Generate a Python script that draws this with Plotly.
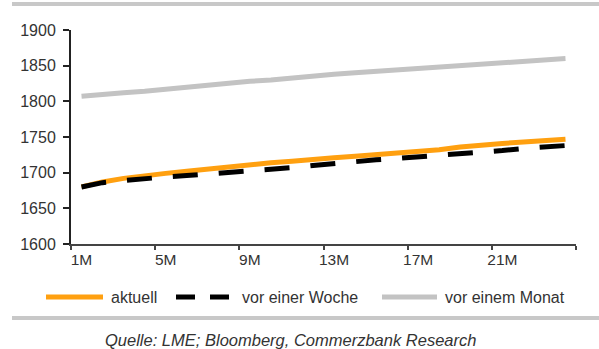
import plotly.graph_objects as go

# Forward curve, monthly tenors 1M..24M (USD/t)
months = list(range(1, 25))
tick_months = [1, 5, 9, 13, 17, 21]
tick_labels = ["1M", "5M", "9M", "13M", "17M", "21M"]

aktuell = [1680, 1687, 1692, 1696, 1699, 1702, 1705, 1709, 1712, 1714, 1716, 1719,
           1721, 1723, 1725, 1727, 1729, 1732, 1736, 1739, 1741, 1743, 1745, 1747]
vor_einer_woche = [1680, 1686, 1689, 1692, 1694, 1696, 1698, 1700, 1702, 1704, 1707, 1710,
                   1713, 1715, 1718, 1720, 1722, 1725, 1727, 1729, 1731, 1734, 1736, 1738]
vor_einem_monat = [1807, 1810, 1812, 1814, 1817, 1819, 1822, 1825, 1828, 1830, 1833, 1835,
                   1838, 1840, 1842, 1844, 1846, 1848, 1850, 1852, 1854, 1856, 1858, 1860]

series_names = ["aktuell", "vor einer Woche", "vor einem Monat"]

W, H = 599, 349
L, R, T, B = 71, 23, 30, 105
PW, PH = W - L - R, H - T - B

ORANGE = "#FFA010"
GRAY = "#C3C3C3"
TEXT = "#333333"
FONT = "Liberation Sans, Arial, sans-serif"


def px(x):
    return (x - L) / PW


def py(y):
    return (H - B - y) / PH


fig = go.Figure()
fig.add_trace(go.Scatter(x=months, y=vor_einem_monat, mode="lines",
                         line=dict(color=GRAY, width=5), name=series_names[2]))
fig.add_trace(go.Scatter(x=months, y=aktuell, mode="lines",
                         line=dict(color=ORANGE, width=5), name=series_names[0]))
fig.add_trace(go.Scatter(x=months, y=vor_einer_woche, mode="lines",
                         line=dict(color="#000000", width=5, dash="25px,21px"),
                         name=series_names[1]))

shapes = []
annotations = []

# horizontal rules above and below the chart
for yy in (4, 318):
    shapes.append(dict(type="line", xref="paper", yref="paper",
                       x0=px(12), x1=px(599), y0=py(yy), y1=py(yy),
                       line=dict(color="#C8C8C8", width=4)))

# legend row
leg_y = 297
legend_items = [
    (46, 103, dict(color=ORANGE, width=5), 109, series_names[0]),
    (176, 229, dict(color="#000000", width=5, dash="19px,15px"), 240, series_names[1]),
    (382, 437, dict(color=GRAY, width=5), 443, series_names[2]),
]
for x0, x1, ln, tx, label in legend_items:
    shapes.append(dict(type="line", xref="paper", yref="paper",
                       x0=px(x0), x1=px(x1), y0=py(leg_y), y1=py(leg_y), line=ln))
    annotations.append(dict(xref="paper", yref="paper", x=px(tx), y=py(leg_y),
                            text=label, showarrow=False, xanchor="left", yanchor="middle",
                            font=dict(family=FONT, size=16, color=TEXT)))

annotations.append(dict(xref="paper", yref="paper", x=px(290), y=py(340),
                        text="<i>Quelle: LME; Bloomberg, Commerzbank Research</i>",
                        showarrow=False, xanchor="center", yanchor="middle",
                        font=dict(family=FONT, size=16.5, color=TEXT)))

fig.update_layout(
    width=W, height=H, autosize=False,
    margin=dict(l=L, r=R, t=T, b=B, pad=0),
    paper_bgcolor="white", plot_bgcolor="white",
    showlegend=False,
    shapes=shapes, annotations=annotations,
    font=dict(family=FONT, size=15, color=TEXT),
)

fig.update_xaxes(
    range=[0.5, 24.5], tickmode="array", tickvals=tick_months, ticktext=tick_labels,
    ticks="", showgrid=False, zeroline=False,
    showline=True, linecolor="#444444", linewidth=2,
    tickfont=dict(family=FONT, size=15.5, color=TEXT),
    minor=dict(tick0=0.5, dtick=4, ticks="outside", ticklen=4, tickwidth=2,
               tickcolor="#444444", showgrid=False),
)
fig.update_yaxes(
    range=[1600, 1900], tickmode="linear", tick0=1600, dtick=50,
    ticks="outside", ticklen=6, tickwidth=2, tickcolor="#222222",
    showgrid=False, zeroline=False,
    showline=True, linecolor="#222222", linewidth=2,
    tickfont=dict(family=FONT, size=16, color=TEXT),
    ticklabelstandoff=4,
)

fig.write_html("out.html")
